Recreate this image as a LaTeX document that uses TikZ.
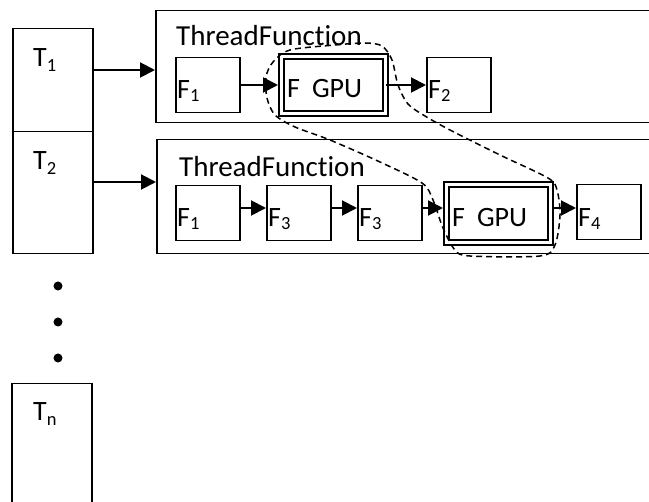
\documentclass[tikz,border=0pt]{standalone}
\usepackage{fontspec}
\setmainfont{Carlito}[Ligatures={NoCommon,NoContextual}]
\usetikzlibrary{arrows.meta,calc}
\newcommand\mysub[1]{\raisebox{-5pt}{\fontsize{18.5}{18}\selectfont #1}}
\newcommand\myfsub[1]{\raisebox{-3pt}{\fontsize{18.5}{18}\selectfont #1}}
\begin{document}
\begin{tikzpicture}[x=1pt,y=-1pt,
  every node/.style={font=\fontsize{28}{30}\selectfont},
  box/.style={draw, line width=1.5pt, inner sep=0pt, anchor=north west},
  fbox/.style={box, minimum width=64pt, minimum height=55pt},
  gpubox/.style={draw, line width=2pt, double, double distance=3pt, inner sep=0pt, anchor=north west},
  lbl/.style={inner sep=0pt, anchor=base west},
  tflbl/.style={lbl, font=\fontsize{29}{30}\selectfont},
  arr/.style={line width=2pt, -{Triangle[length=15pt,width=15pt]}},
  loop/.style={line width=1.5pt, dash pattern=on 6pt off 4pt},
  dot/.style={circle, fill, inner sep=0pt, minimum size=9pt}]
\clip (0,0) rectangle (649,502);
% thread boxes
\node[box, minimum width=80pt, minimum height=103pt] (t1) at (12,28) {};
\node[box, minimum width=80pt, minimum height=122pt] (t2) at (12,131) {};
\node[box, minimum width=80pt, minimum height=140pt] (tn) at (11,383) {};
\node[lbl] (t1l) at (33,67) {T\mysub{1}};
\node[lbl] (t2l) at (33,170) {T\mysub{2}};
\node[lbl] (tnl) at (33,421) {T\mysub{n}};
\node[dot] (d1) at (58,286) {};
\node[dot] (d2) at (58,322) {};
\node[dot] (d3) at (58,358) {};
% thread function boxes
\node[box, minimum width=545pt, minimum height=112pt] (tf1) at (155,10) {};
\node[box, minimum width=545pt, minimum height=114pt] (tf2) at (156,139) {};
\node[tflbl] (tf1l) at (176,46) {ThreadFunction};
\node[tflbl] (tf2l) at (179,177) {ThreadFunction};
\coordinate (a1) at (155,70);
\coordinate (a2) at (156,182);
\draw[arr] (t1.east |- a1) -- (a1);
\draw[arr] (t2.east |- a2) -- (a2);
% row 1
\node[fbox] (r1f1) at (175,57) {};
\node[gpubox, minimum width=103.5pt, minimum height=57pt] (r1g) at (280.5,55.5) {};
\node[fbox] (r1f2) at (426,57) {};
\node[lbl] (r1f1l) at (177,98.5) {F\myfsub{1}};
\node[lbl] (r1gl) at (287,98) {F\hspace{12pt}GPU};
\node[lbl] (r1f2l) at (428,98.5) {F\myfsub{2}};
\draw[arr, shorten >=2.5pt] (r1f1.east |- r1g.west) -- (r1g.west);
\draw[arr] (r1g.east) -- (r1g.east -| r1f2.west);
% row 2
\node[fbox] (r2f1) at (175,185) {};
\node[fbox] (r2f3a) at (266,185) {};
\node[fbox] (r2f3b) at (357,185) {};
\node[gpubox, minimum width=104pt, minimum height=58pt] (r2g) at (445.5,183.5) {};
\node[fbox] (r2f4) at (576,184) {};
\node[lbl] (r2f1l) at (177,227) {F\myfsub{1}};
\node[lbl] (r2f3al) at (268,227) {F\myfsub{3}};
\node[lbl] (r2f3bl) at (359,227) {F\myfsub{3}};
\node[lbl] (r2gl) at (452,227) {F\hspace{12pt}GPU};
\node[lbl] (r2f4l) at (578,227) {F\myfsub{4}};
\coordinate (ry) at (0,208);
\draw[arr] (r2f1.east |- ry) -- (r2f3a.west |- ry);
\draw[arr] (r2f3a.east |- ry) -- (r2f3b.west |- ry);
\draw[arr, shorten >=2.5pt] (r2f3b.east |- ry) -- (r2g.west |- ry);
\draw[arr] (r2g.east |- ry) -- (r2f4.west |- ry);
% dashed loop
\draw[loop] plot[smooth cycle, tension=0.5] coordinates {
  (290,50) (335,45) (365,43) (382,46) (392,60) (398,85) (408,104) (425,116)
  (450,130) (500,155) (548,178) (557,190) (560,215) (555,245) (540,256)
  (470,256) (455,250) (443,228) (433,200) (422,183) (380,162) (330,140)
  (295,127) (275,115) (267,98) (266,77) (273,62)};
\end{tikzpicture}
\end{document}
